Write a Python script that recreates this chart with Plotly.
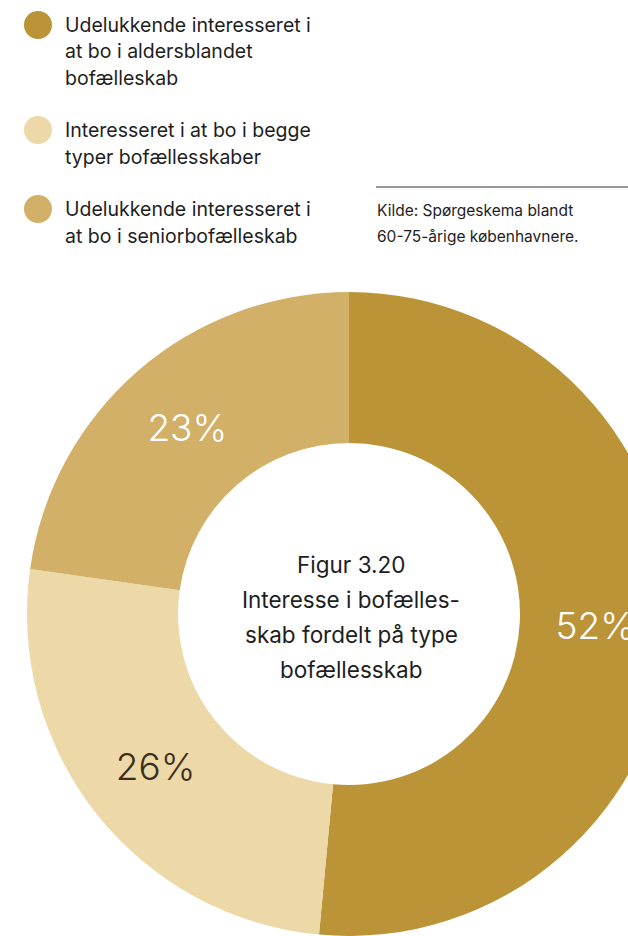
import plotly.graph_objects as go

# Survey answers: interest in type of co-housing (percent of respondents)
categories = [
    "Udelukkende interesseret i<br>at bo i aldersblandet<br>bofælleskab",
    "Interesseret i at bo i begge<br>typer bofællesskaber",
    "Udelukkende interesseret i<br>at bo i seniorbofælleskab",
]
shares = [52, 26, 23]
colors = ["#BC9438", "#EDD8A7", "#D2B067"]
label_colors = ["#FFFFFF", "#3A2E1E", "#FFFFFF"]

center_title = ["Figur 3.20", "Interesse i bofælles-", "skab fordelt på type", "bofællesskab"]
source_lines = ["Kilde: Spørgeskema blandt", "60-75-årige københavnere."]

# Canvas is wider/taller than the visible page so the ring runs off the edges
W, H = 700, 960
FONT = "Inter"
TEXT_DARK = "#1E1E1E"


def px(x):
    return x / W


def py(y):
    return 1 - y / H


# Ring geometry in pixels
cx, cy, r_out = 349, 614, 322

fig = go.Figure(
    go.Pie(
        labels=[c.replace("<br>", " ") for c in categories],
        values=shares,
        hole=0.531,
        sort=False,
        direction="clockwise",
        rotation=0,
        marker=dict(colors=colors, line=dict(width=0)),
        texttemplate="%{value}%",
        textposition="inside",
        insidetextorientation="horizontal",
        textfont=dict(family=FONT, size=37, color=label_colors, weight=300),
        hoverinfo="skip",
        showlegend=False,
        domain=dict(
            x=[px(cx - r_out), px(cx + r_out)],
            y=[py(cy + r_out), py(cy - r_out)],
        ),
    )
)

annotations = []
shapes = []

# Legend: coloured dots with wrapped labels
legend_tops = [25, 130, 209]
for cat, col, y0 in zip(categories, colors, legend_tops):
    shapes.append(dict(
        type="circle", xref="paper", yref="paper",
        x0=px(24), x1=px(52), y0=py(y0 - 14), y1=py(y0 + 14),
        fillcolor=col, line=dict(width=0),
    ))
    for i, line in enumerate(cat.split("<br>")):
        annotations.append(dict(
            x=px(63), y=py(y0 + i * 26.5), xref="paper", yref="paper",
            text=line, showarrow=False, xanchor="left", yanchor="middle",
            font=dict(family=FONT, size=19.5, color=TEXT_DARK),
        ))

# Source note with rule above it
shapes.append(dict(
    type="line", xref="paper", yref="paper",
    x0=px(376), x1=px(W), y0=py(187), y1=py(187),
    line=dict(color="#333333", width=1),
))
for i, line in enumerate(source_lines):
    annotations.append(dict(
        x=px(375), y=py(211 + i * 26), xref="paper", yref="paper",
        text=line, showarrow=False, xanchor="left", yanchor="middle",
        font=dict(family=FONT, size=15.5, color=TEXT_DARK),
    ))

# Title inside the ring
for i, line in enumerate(center_title):
    annotations.append(dict(
        x=px(351), y=py(564 + i * 35), xref="paper", yref="paper",
        text=line, showarrow=False, xanchor="center", yanchor="middle",
        font=dict(family=FONT, size=22.5, color=TEXT_DARK),
    ))

fig.update_layout(
    width=W, height=H,
    margin=dict(l=0, r=0, t=0, b=0),
    paper_bgcolor="white",
    plot_bgcolor="white",
    annotations=annotations,
    shapes=shapes,
)

fig.write_html(
    "out.html",
    config={"displayModeBar": False},
    post_script=(
        "document.documentElement.style.overflow='hidden';"
        "document.body.style.overflow='hidden';"
    ),
)
